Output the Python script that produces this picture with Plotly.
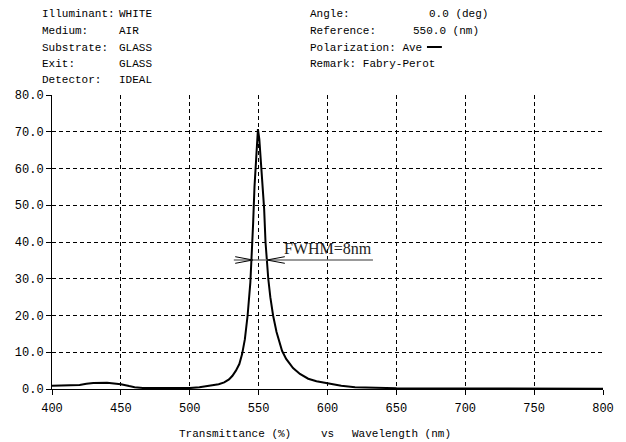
import plotly.graph_objects as go

# Transmittance spectrum of a Fabry-Perot filter (average polarization)
wavelength = [400, 410, 420, 425, 430, 440, 445, 450, 456, 460, 466, 480, 500, 507, 515, 521,
              525, 528.5, 531, 533.5, 536, 538, 540, 542, 544, 545, 546, 547, 548, 549, 549.5,
              550.5, 551.5, 552, 553, 554, 555, 556, 557, 558.5, 560.5, 563, 565, 567, 570,
              575, 580, 586, 592, 600, 610, 620, 630, 640, 650, 700, 750, 800]
transmittance = [0.9, 0.9, 1.1, 1.4, 1.6, 1.7, 1.6, 1.3, 0.8, 0.5, 0.3, 0.25, 0.25, 0.5, 0.9, 1.3,
                 1.8, 2.6, 3.6, 5.0, 6.8, 9.5, 13.5, 20, 29, 36, 45, 55, 63, 69, 70.7,
                 68, 63, 60, 55, 49, 40, 34, 30, 25, 20, 15.5, 12.6, 10.4, 8.2,
                 5.7, 4.1, 2.8, 2.1, 1.5, 0.9, 0.5, 0.35, 0.3, 0.2, 0.15, 0.12, 0.1]

x_ticks = [400, 450, 500, 550, 600, 650, 700, 750, 800]
y_ticks = [0, 10, 20, 30, 40, 50, 60, 70, 80]
y_tick_text = ["0.0", "10.0", "20.0", "30.0", "40.0", "50.0", "60.0", "70.0", "80.0"]

header_left = [("Illuminant:", "WHITE"), ("Medium:", "AIR"), ("Substrate:", "GLASS"),
               ("Exit:", "GLASS"), ("Detector:", "IDEAL")]
header_right = [("Angle:", "0.0 (deg)"), ("Reference:", "550.0 (nm)"),
                ("Polarization: Ave", ""), ("Remark: Fabry-Perot", "")]

fwhm_level = 35.1
fwhm_left, fwhm_right = 545.8, 556.0
fwhm_label = "FWHM=8nm"

W, H = 626, 442
L, R, T, B = 52, 20, 95, 53
PW, PH = W - L - R, H - T - B


def px(x):
    return (x - L) / PW


def py(y):
    return (H - B - y) / PH


MONO = "Liberation Mono, Courier New, monospace"

fig = go.Figure()
fig.add_trace(go.Scatter(x=wavelength, y=transmittance, mode="lines",
                         line=dict(color="black", width=2), showlegend=False,
                         hoverinfo="skip"))

annotations = []
rows_y = [14, 31, 48, 64, 80]
for (lab, val), yy in zip(header_left, rows_y):
    annotations.append(dict(x=px(40), y=py(yy), text=lab))
    annotations.append(dict(x=px(117), y=py(yy), text=val))
for (lab, val), yy in zip(header_right, rows_y):
    annotations.append(dict(x=px(309), y=py(yy), text=lab))
value_x = {"0.0 (deg)": 429, "550.0 (nm)": 413}
for (lab, val), yy in zip(header_right, rows_y):
    if val:
        annotations.append(dict(x=px(value_x[val]), y=py(yy), text=val))
for a in annotations:
    a.update(xref="paper", yref="paper", xanchor="left", yanchor="middle",
             showarrow=False, font=dict(family=MONO, size=11, color="black"))

# axis title pieces
for txt, xx in [("Transmittance (%)", 178), ("vs", 320), ("Wavelength (nm)", 352)]:
    annotations.append(dict(x=px(xx), y=py(434), xref="paper", yref="paper",
                            xanchor="left", yanchor="middle", text=txt, showarrow=False,
                            font=dict(family=MONO, size=11, color="black")))

# FWHM label
annotations.append(dict(x=567, y=fwhm_level + 0.4, xref="x", yref="y", xanchor="left",
                        yanchor="bottom", text=fwhm_label, showarrow=False,
                        font=dict(family="Liberation Serif, Times New Roman, serif",
                                  size=16, color="#222")))

shapes = [
    # polarization legend swatch
    dict(type="line", xref="paper", yref="paper", x0=px(429), x1=px(444),
         y0=py(47), y1=py(47), line=dict(color="black", width=2)),
    # FWHM marker line and arrows
    dict(type="line", xref="x", yref="y", x0=532, x1=633, y0=fwhm_level, y1=fwhm_level,
         line=dict(color="#777", width=1.5)),
    dict(type="path", xref="x", yref="y",
         path=f"M 533 {fwhm_level + 0.9} L {fwhm_left} {fwhm_level} L 533 {fwhm_level - 0.9}",
         line=dict(color="black", width=1)),
    dict(type="path", xref="x", yref="y",
         path=f"M 569 {fwhm_level + 0.9} L {fwhm_right} {fwhm_level} L 569 {fwhm_level - 0.9}",
         line=dict(color="black", width=1)),
]

fig.update_layout(
    width=W, height=H,
    margin=dict(l=L, r=R, t=T, b=B),
    paper_bgcolor="white", plot_bgcolor="white",
    annotations=annotations, shapes=shapes,
    font=dict(family=MONO, size=12, color="black"),
    xaxis=dict(range=[400, 800], tickvals=x_ticks, ticks="outside", ticklen=5,
               tickcolor="black", showline=True, linecolor="black", linewidth=1,
               showgrid=True, gridcolor="black", gridwidth=1, griddash="4px,3px",
               zeroline=False, ticklabelstandoff=3,
               tickfont=dict(family=MONO, size=12, color="black")),
    yaxis=dict(range=[0, 80], tickvals=y_ticks, ticktext=y_tick_text, ticks="outside",
               ticklen=5, tickcolor="black", showline=True, linecolor="black", linewidth=1,
               showgrid=True, gridcolor="black", gridwidth=1, griddash="4px,3px",
               zeroline=False, tickfont=dict(family=MONO, size=12, color="black")),
)

fig.write_html("out.html")
